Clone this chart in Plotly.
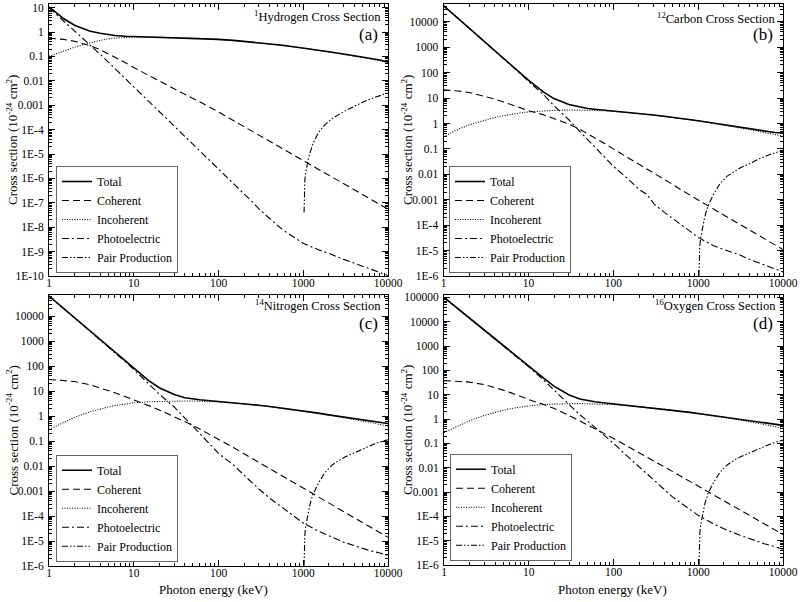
import plotly.graph_objects as go

# ---------------- data (barns/atom = 1e-24 cm^2) ----------------
energy_keV = [1, 1.5, 2, 3, 4, 5, 6, 8, 10, 15, 20, 30, 40, 50, 60, 80, 100, 150, 200, 250,
              300, 400, 500, 600, 800, 1000, 1500, 2000, 3000, 4000, 5000, 6000, 8000, 10000]
pair_energy_keV = [1022, 1025, 1030, 1045, 1064, 1100, 1150, 1200, 1300, 1500, 1800, 2200,
                   2600, 3150, 4000, 5400, 7000, 8500, 10000]

# Hydrogen
h_total = [10.8, 3.5, 1.9, 1.1, 0.89, 0.78, 0.72, 0.67, 0.655, 0.635, 0.625, 0.605, 0.585, 0.568,
           0.552, 0.525, 0.5, 0.455, 0.418, 0.39, 0.364, 0.328, 0.3, 0.279, 0.247, 0.223, 0.182,
           0.157, 0.127, 0.108, 0.095, 0.085, 0.071, 0.059]
h_coherent = [0.56, 0.5, 0.42, 0.28, 0.19, 0.13, 0.093, 0.055, 0.035, 0.0165, 0.0096, 0.0046,
              0.0028, 0.0019, 0.0014, 8.1e-4, 5.3e-4, 2.35e-4, 1.35e-4, 8.7e-5, 6.0e-5, 3.4e-5,
              2.2e-5, 1.5e-5, 8.6e-6, 5.5e-6, 2.45e-6, 1.38e-6, 6.1e-7, 3.45e-7, 2.2e-7, 1.53e-7,
              8.6e-8, 5.5e-8]
h_incoherent = [0.1, 0.17, 0.24, 0.36, 0.46, 0.53, 0.57, 0.6, 0.615, 0.62, 0.615, 0.6, 0.58, 0.565,
                0.55, 0.522, 0.497, 0.453, 0.417, 0.389, 0.363, 0.327, 0.3, 0.278, 0.246, 0.222,
                0.18, 0.154, 0.124, 0.104, 0.091, 0.081, 0.067, 0.056]
h_photo = [10, 2.83, 1.16, 0.33, 0.124, 0.059, 0.032, 0.0122, 0.0058, 1.48e-3, 5.65e-4, 1.45e-4,
           5.5e-5, 2.65e-5, 1.44e-5, 5.4e-6, 2.57e-6, 6.6e-7, 2.3e-7, 1.1e-7, 5.6e-8, 2.2e-8,
           1.15e-8, 7e-9, 3.5e-9, 2.2e-9, 1.2e-9, 8.5e-10, 4.8e-10, 3.4e-10, 2.6e-10, 2.05e-10,
           1.4e-10, 1.05e-10]
h_pair = [4e-8, 2.5e-7, 5e-7, 8.5e-7, 1.6e-6, 3.5e-6, 6.5e-6, 1.1e-5, 2.6e-5, 7.3e-5, 1.6e-4,
          2.9e-4, 4.1e-4, 6.0e-4, 9e-4, 1.5e-3, 2.1e-3, 2.6e-3, 3.2e-3]

# Carbon
c_total = [4.3e4, 1.31e4, 5.7e3, 1.74e3, 752, 392, 230, 99, 51, 17.5, 9.5, 5.6, 4.45, 3.9, 3.65,
           3.35, 3.15, 2.77, 2.5, 2.3, 2.15, 1.91, 1.75, 1.62, 1.42, 1.28, 1.04, 0.89, 0.715,
           0.615, 0.548, 0.5, 0.44, 0.42]
c_coherent = [21, 19, 16.5, 12, 9.2, 7.2, 5.8, 4.2, 3.2, 2.2, 1.6, 0.95, 0.6, 0.4, 0.28, 0.16, 0.1,
              0.045, 0.025, 0.016, 0.011, 0.0062, 0.004, 0.0027, 0.0015, 9.7e-4, 4.4e-4, 2.5e-4,
              1.12e-4, 6.4e-5, 4.1e-5, 2.9e-5, 1.65e-5, 1.1e-5]
c_incoherent = [0.3, 0.6, 0.88, 1.35, 1.72, 2.0, 2.25, 2.6, 2.85, 3.15, 3.28, 3.38, 3.38, 3.33,
                3.28, 3.15, 3.02, 2.7, 2.46, 2.27, 2.13, 1.9, 1.74, 1.61, 1.41, 1.27, 1.03, 0.88,
                0.69, 0.58, 0.5, 0.45, 0.37, 0.32]
c_photo = [4.3e4, 1.31e4, 5.7e3, 1.73e3, 745, 385, 222, 93, 45, 14, 5.0, 1.4, 0.5, 0.23, 0.12,
           0.045, 0.021, 0.0065, 0.0026, 0.0016, 7e-4, 3.2e-4, 1.8e-4, 1.2e-4, 5.8e-5, 3.3e-5,
           1.6e-5, 1.1e-5, 7e-6, 4.6e-6, 3.4e-6, 2.7e-6, 1.9e-6, 1.45e-6]
c_pair = [1e-6, 2e-6, 5e-6, 1.4e-5, 2.6e-5, 5.5e-5, 1.1e-4, 2.2e-4, 5.5e-4, 1.5e-3, 4.2e-3,
          8.5e-3, 0.0125, 0.018, 0.026, 0.043, 0.06, 0.075, 0.088]

# Nitrogen
n_total = [6.3e4, 1.95e4, 8.5e3, 2.63e3, 1.15e3, 601, 355, 155, 81, 26, 13.5, 7.2, 5.4, 4.75,
           4.45, 4.05, 3.82, 3.38, 3.1, 2.87, 2.68, 2.4, 2.19, 2.03, 1.78, 1.59, 1.3, 1.11, 0.895,
           0.767, 0.684, 0.626, 0.551, 0.504]
n_coherent = [29, 27, 24, 18, 13.5, 10.5, 8.5, 5.9, 4.5, 2.6, 1.75, 0.95, 0.6, 0.42, 0.3, 0.18,
              0.12, 0.055, 0.031, 0.02, 0.014, 0.0079, 0.0051, 0.0035, 0.002, 0.0013, 5.8e-4,
              3.3e-4, 1.45e-4, 8.2e-5, 5.3e-5, 3.7e-5, 2.1e-5, 1.4e-5]
n_incoherent = [0.29, 0.58, 0.88, 1.45, 1.92, 2.3, 2.6, 3.05, 3.35, 3.7, 3.85, 3.95, 4.0, 3.98,
                3.95, 3.8, 3.66, 3.31, 3.06, 2.85, 2.66, 2.39, 2.18, 2.02, 1.77, 1.58, 1.29, 1.1,
                0.87, 0.73, 0.63, 0.56, 0.46, 0.39]
n_photo = [6.3e4, 1.95e4, 8.4e3, 2.61e3, 1.13e3, 588, 344, 146, 73, 20, 7.5, 2.3, 0.8, 0.38, 0.2,
           0.075, 0.032, 0.011, 0.0042, 0.0021, 0.0012, 5.2e-4, 3e-4, 1.9e-4, 9e-5, 5.2e-5,
           2.5e-5, 1.6e-5, 9e-6, 6.5e-6, 5e-6, 4.2e-6, 3.3e-6, 2.7e-6]
n_pair = [1e-6, 2.6e-6, 6.5e-6, 1.8e-5, 3.4e-5, 7.2e-5, 1.4e-4, 2.9e-4, 7.2e-4, 1.95e-3, 5.5e-3,
          0.011, 0.0163, 0.0234, 0.034, 0.056, 0.078, 0.097, 0.112]

# Oxygen
o_total = [1.0e5, 3.16e4, 1.4e4, 4.4e3, 1.95e3, 1.03e3, 614, 271, 150, 48, 22, 9.7, 6.7, 5.65,
           5.12, 4.55, 4.2, 3.62, 3.29, 3.05, 2.84, 2.54, 2.32, 2.14, 1.88, 1.69, 1.38, 1.18,
           0.955, 0.822, 0.74, 0.68, 0.598, 0.55]
o_coherent = [38, 36, 33, 26, 20, 15.5, 12.5, 8.5, 6.3, 4.0, 2.7, 1.4, 0.85, 0.55, 0.4, 0.24,
              0.16, 0.074, 0.042, 0.027, 0.019, 0.0107, 0.0069, 0.0048, 0.0027, 0.0017, 7.7e-4,
              4.4e-4, 1.95e-4, 1.1e-4, 7e-5, 4.9e-5, 2.8e-5, 1.8e-5]
o_incoherent = [0.28, 0.55, 0.85, 1.42, 1.9, 2.3, 2.65, 3.15, 3.5, 3.95, 4.15, 4.3, 4.33, 4.3,
                4.25, 4.1, 3.95, 3.52, 3.24, 3.02, 2.82, 2.53, 2.31, 2.13, 1.88, 1.685, 1.376,
                1.17, 0.93, 0.79, 0.68, 0.6, 0.49, 0.41]
o_photo = [1.0e5, 3.15e4, 1.4e4, 4.35e3, 1.9e3, 1.0e3, 600, 260, 140, 40, 15.5, 4.0, 1.5, 0.8,
           0.47, 0.2, 0.1, 0.027, 0.011, 0.0055, 0.003, 0.0012, 6.2e-4, 3.9e-4, 1.9e-4, 1.1e-4,
           5e-5, 3.1e-5, 1.75e-5, 1.2e-5, 9e-6, 7.5e-6, 5.7e-6, 4.5e-6]
o_pair = [1e-6, 3.1e-6, 7.8e-6, 2.2e-5, 4e-5, 8.5e-5, 1.7e-4, 3.4e-4, 8.5e-4, 2.3e-3, 6.5e-3,
          0.013, 0.0194, 0.028, 0.04, 0.067, 0.093, 0.116, 0.136]

series_names = ["Total", "Coherent", "Incoherent", "Photoelectric", "Pair Production"]
panel_titles = ["<sup>1</sup>Hydrogen Cross Section", "<sup>12</sup>Carbon Cross Section",
                "<sup>14</sup>Nitrogen Cross Section", "<sup>16</sup>Oxygen Cross Section"]
panel_labels = ["(a)", "(b)", "(c)", "(d)"]
x_tick_values = [1, 10, 100, 1000, 10000]
x_tick_labels = ["1", "10", "100", "1000", "10000"]
y_exponents = [(-10, 1), (-6, 4), (-6, 4), (-6, 5)]

panels = [
    (h_total, h_coherent, h_incoherent, h_photo, h_pair),
    (c_total, c_coherent, c_incoherent, c_photo, c_pair),
    (n_total, n_coherent, n_incoherent, n_photo, n_pair),
    (o_total, o_coherent, o_incoherent, o_photo, o_pair),
]

# ---------------- layout (pixel geometry) ----------------
W, H = 800, 602
FONT = "Liberation Serif, Times New Roman, serif"
# plot frames in pixels: (left, right, top, bottom)
frames = [(49, 388, 4, 276), (443.5, 783, 4, 276), (49, 388, 295, 566), (444, 783, 295, 565)]
y_ranges = [(-10.0, 1.15), (-6.0, 4.70), (-6.0, 4.84), (-6.0, 5.10)]

line_styles = [
    dict(color="black", width=1.6, dash="solid"),
    dict(color="black", width=1.1, dash="7px,4px"),
    dict(color="black", width=1.1, dash="1px,1.5px"),
    dict(color="black", width=1.1, dash="7px,3px,2px,3px"),
    dict(color="black", width=1.1, dash="6px,2px,1.5px,2px,1.5px,2px"),
]


def px_x(v):
    return v / W


def px_y(v):
    return 1 - v / H


def exp_label(e):
    if e >= -3:
        return f"{10.0 ** e:g}" if e < 0 else str(int(10 ** e))
    return f"1E{e}"


fig = go.Figure()
legend_names = ["legend", "legend2", "legend3", "legend4"]
legend_pos = [(56, 273), (449, 273), (56, 561.7), (450, 560.7)]

for i, data in enumerate(panels):
    ax = "" if i == 0 else str(i + 1)
    for k, (name, vals) in enumerate(zip(series_names, data)):
        xs = pair_energy_keV if k == 4 else energy_keV
        fig.add_trace(go.Scatter(
            x=xs, y=vals, mode="lines", name=name, line=line_styles[k],
            xaxis="x" + ax, yaxis="y" + ax, legend=legend_names[i], showlegend=True,
        ))

    l, r, t, b = frames[i]
    lo_e, hi_e = y_exponents[i]
    yvals = [10.0 ** e for e in range(lo_e, hi_e + 1)]
    ytext = [exp_label(e) for e in range(lo_e, hi_e + 1)]
    yminor = [m * 10.0 ** e for e in range(lo_e - 1, hi_e + 1) for m in range(2, 10)]
    xminor = [m * 10.0 ** e for e in range(0, 4) for m in range(2, 10)]

    common = dict(type="log", showline=True, linecolor="black", linewidth=1, mirror="allticks",
                  ticks="inside", ticklen=6, tickwidth=1, tickcolor="black", showgrid=False,
                  zeroline=False, tickfont=dict(family=FONT, size=11.5, color="black"))
    fig.layout["xaxis" + ax] = dict(
        common, domain=[px_x(l), px_x(r)], anchor="y" + ax, range=[0, 4],
        tickmode="array", tickvals=x_tick_values, ticktext=x_tick_labels,
        ticklabelstandoff=-4,
        minor=dict(ticks="inside", ticklen=3, tickwidth=1, tickcolor="black",
                   tickmode="array", tickvals=xminor, showgrid=False))
    fig.layout["yaxis" + ax] = dict(
        common, domain=[px_y(b), px_y(t)], anchor="x" + ax, range=list(y_ranges[i]),
        tickmode="array", tickvals=yvals, ticktext=ytext, ticklabelstandoff=2,
        minor=dict(ticks="inside", ticklen=3, tickwidth=1, tickcolor="black",
                   tickmode="array", tickvals=yminor, showgrid=False))

    lx, ly = legend_pos[i]
    fig.layout[legend_names[i]] = dict(
        x=px_x(lx), y=px_y(ly), xanchor="left", yanchor="bottom",
        bgcolor="white", bordercolor="#666", borderwidth=1,
        font=dict(family=FONT, size=12, color="black"),
        itemwidth=30, tracegroupgap=0, traceorder="normal")

annotations = []
title_y = [16, 18, 305, 305]
label_y = [35, 35, 323, 323]
for i in range(4):
    l, r, t, b = frames[i]
    annotations.append(dict(text=panel_titles[i], x=px_x(r - 5), y=px_y(title_y[i]),
                            xref="paper", yref="paper", xanchor="right", yanchor="middle",
                            showarrow=False, font=dict(family=FONT, size=12.5, color="black")))
    annotations.append(dict(text=panel_labels[i], x=px_x(r - 8), y=px_y(label_y[i]),
                            xref="paper", yref="paper", xanchor="right", yanchor="middle",
                            showarrow=False, font=dict(family=FONT, size=17, color="black")))
    ytitle_x = 12 if i % 2 == 0 else 407
    annotations.append(dict(text="Cross section (10<sup>-24</sup> cm<sup>2</sup>)",
                            x=px_x(ytitle_x), y=px_y((t + b) / 2), xref="paper", yref="paper",
                            textangle=-90, showarrow=False, xanchor="center", yanchor="middle",
                            font=dict(family=FONT, size=13, color="black")))
    if i >= 2:
        annotations.append(dict(text="Photon energy (keV)", x=px_x(213 if i == 2 else 612),
                                y=px_y(589), xref="paper", yref="paper", showarrow=False,
                                xanchor="center", yanchor="middle",
                                font=dict(family=FONT, size=13, color="black")))

fig.update_layout(
    width=W, height=H, margin=dict(l=0, r=0, t=0, b=0, autoexpand=False),
    paper_bgcolor="white", plot_bgcolor="white",
    font=dict(family=FONT, color="black"),
    annotations=annotations,
)

fig.write_html("out.html", config={"displayModeBar": False},
               post_script="document.body.style.margin='0px';document.body.style.overflow='hidden';")
